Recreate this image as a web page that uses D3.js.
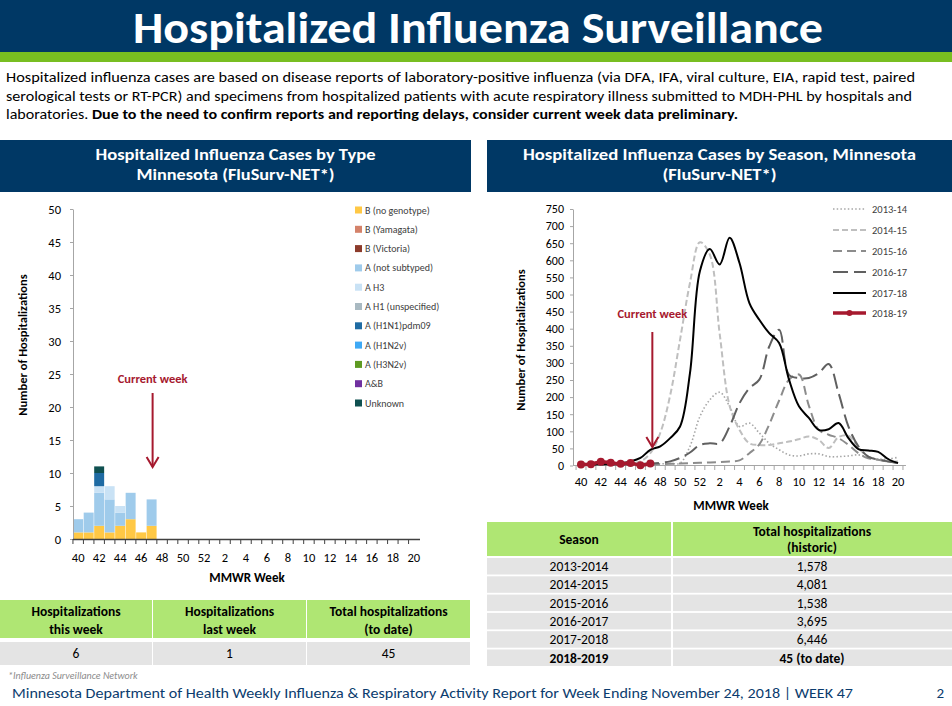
<!DOCTYPE html>
<html lang="en">
<head>
<meta charset="UTF-8">
<title>Hospitalized Influenza Surveillance</title>
<style type="text/css">
  body { margin: 0; background: #fff; }
  svg { display: block; font-family: Carlito, Calibri, Lato, "Open Sans", sans-serif; }
</style>
</head>
<body>
<script src="https://d3js.org/d3.v7.min.js"></script>
<script type="text/javascript">
var W = 952, H = 706;
var navy = "#003865", red = "#a6192e";

// MMWR weeks of a season and the labels shown under the axes
var weeks = ["40","41","42","43","44","45","46","47","48","49","50","51","52",
             "1","2","3","4","5","6","7","8","9","10","11","12","13","14","15","16","17","18","19","20"];
var tickLabels = ["40","42","44","46","48","50","52","2","4","6","8","10","12","14","16","18","20"];

// left chart: cases by type, weeks reported so far
var typeWeeks = ["40","41","42","43","44","45","46","47"];
var typeNames = ["B (no genotype)","B (Yamagata)","B (Victoria)","A (not subtyped)","A H3",
                 "A H1 (unspecified)","A (H1N1)pdm09","A (H1N2v)","A (H3N2v)","A&B","Unknown"];
var typeColors = ["#ffc845","#d4826a","#8c3b2b","#9fcbeb","#c9e2f5",
                  "#a9b9c1","#1f6ba3","#3fa9f5","#5e9a22","#7030a0","#0f5050"];
var bNoGenotype  = [1,1,2,1,2,3,1,2];
var bYamagata    = [0,0,0,0,0,0,0,0];
var bVictoria    = [0,0,0,0,0,0,0,0];
var aNotSubtyped = [2,3,5,5,2,4,0,4];
var aH3          = [0,0,1,2,1,0,0,0];
var aH1Unspec    = [0,0,0,0,0,0,0,0];
var aH1N1pdm09   = [0,0,2,0,0,0,0,0];
var aH1N2v       = [0,0,0,0,0,0,0,0];
var aH3N2v       = [0,0,0,0,0,0,0,0];
var aAndB        = [0,0,0,0,0,0,0,0];
var unknownType  = [0,0,1,0,0,0,0,0];
var leftYTicks = [0,5,10,15,20,25,30,35,40,45,50];

// right chart: weekly hospitalizations by season
var seasonNames = ["2013-14","2014-15","2015-16","2016-17","2017-18","2018-19"];
var s1314 = [3,3,3,3,4,4,4,5,5,6,7,56,143,192,214,173,114,124,95,65,46,31,28,34,34,26,26,28,31,24,19,19,24];
var s1415 = [5,5,5,5,5,6,12,36,95,205,368,534,653,617,385,175,104,65,60,60,65,70,77,85,75,51,83,87,51,26,17,12,12];
var s1516 = [2,2,2,2,2,2,3,3,4,5,6,7,8,9,10,12,15,36,62,120,190,251,266,175,104,90,80,60,36,21,17,12,7];
var s1617 = [2,2,2,2,3,4,5,6,8,12,22,38,60,65,65,114,182,226,251,348,397,265,256,256,270,297,212,114,56,26,17,12,7];
var s1718 = [3,3,4,5,7,12,22,46,56,80,114,270,568,633,588,666,592,475,426,387,358,251,173,139,104,106,124,80,48,44,40,19,7];
var s1819 = [3,4,11,8,5,7,1,6];
var rightYTicks = [0,50,100,150,200,250,300,350,400,450,500,550,600,650,700,750];

// season totals table
var tableSeasons = ["2013-2014","2014-2015","2015-2016","2016-2017","2017-2018","2018-2019"];
var tableTotals = ["1,578","4,081","1,538","3,695","6,446","45 (to date)"];
var weekHeaders = [["Hospitalizations","this week"],["Hospitalizations","last week"],["Total hospitalizations","(to date)"]];
var weekValues = ["6","1","45"];

var svg = d3.select("body").append("svg").attr("width", W).attr("height", H);

// ---------- header ----------
svg.append("rect").attr("x",0).attr("y",0).attr("width",W).attr("height",52).attr("fill",navy);
svg.append("rect").attr("x",0).attr("y",52).attr("width",W).attr("height",10).attr("fill","#78be21");
svg.append("text").attr("x",478).attr("y",43).attr("text-anchor","middle")
  .attr("fill","#fff").attr("font-weight","bold").attr("font-size",44)
  .attr("textLength",690).attr("lengthAdjust","spacingAndGlyphs")
  .text("Hospitalized Influenza Surveillance");

var para = [
  {y: 82, w: 909, parts: [["Hospitalized influenza cases are based on disease reports of laboratory-positive influenza (via DFA, IFA, viral culture, EIA, rapid test, paired", false]]},
  {y: 101, w: 906, parts: [["serological tests or RT-PCR) and specimens from hospitalized patients with acute respiratory illness submitted to MDH-PHL by hospitals and", false]]},
  {y: 119, w: 732, parts: [["laboratories. ", false], ["Due to the need to confirm reports and reporting delays, consider current week data preliminary.", true]]}
];
para.forEach(function(p){
  var t = svg.append("text").attr("x",6).attr("y",p.y).attr("font-size",14).attr("fill","#000")
    .attr("textLength",p.w).attr("lengthAdjust","spacingAndGlyphs");
  p.parts.forEach(function(q){
    t.append("tspan").attr("font-weight", q[1] ? "bold" : "normal").text(q[0]);
  });
});

// panel title boxes
function titleBox(x, w, lines, widths) {
  svg.append("rect").attr("x",x).attr("y",140).attr("width",w).attr("height",52).attr("fill",navy);
  lines.forEach(function(l, i){
    svg.append("text").attr("x",x + w/2).attr("y",160 + i*20).attr("text-anchor","middle")
      .attr("fill","#fff").attr("font-weight","bold").attr("font-size",16)
      .attr("textLength",widths[i]).attr("lengthAdjust","spacingAndGlyphs").text(l);
  });
}
titleBox(0, 471, ["Hospitalized Influenza Cases by Type","Minnesota (FluSurv-NET*)"], [280, 198]);
titleBox(487, 465, ["Hospitalized Influenza Cases by Season, Minnesota","(FluSurv-NET*)"], [393, 114]);

// ---------- left chart ----------
var xL = d3.scaleBand().domain(weeks).range([73, 419]).paddingInner(0.05).paddingOuter(0.02);
var yL = d3.scaleLinear().domain([0, 50]).range([539, 209]);

var typeArrays = [bNoGenotype,bYamagata,bVictoria,aNotSubtyped,aH3,aH1Unspec,aH1N1pdm09,aH1N2v,aH3N2v,aAndB,unknownType];
var typeRows = typeWeeks.map(function(w, i){
  var r = {week: w};
  typeNames.forEach(function(n, k){ r[n] = typeArrays[k][i]; });
  return r;
});
var stacked = d3.stack().keys(typeNames)(typeRows);

var gL = svg.append("g");
gL.selectAll("g.layer").data(stacked).join("g").attr("class","layer")
  .attr("fill", function(d, i){ return typeColors[i]; })
  .selectAll("rect").data(function(d){ return d; }).join("rect")
  .attr("x", function(d){ return xL(d.data.week); })
  .attr("width", xL.bandwidth())
  .attr("y", function(d){ return yL(d[1]); })
  .attr("height", function(d){ return yL(d[0]) - yL(d[1]); });

var axL = svg.append("g").attr("transform","translate(73,0)")
  .call(d3.axisLeft(yL).tickValues(leftYTicks).tickSize(3).tickPadding(9).tickSizeOuter(0));
axL.select(".domain").attr("stroke","#a6a6a6");
axL.selectAll(".tick line").attr("stroke","#a6a6a6");
axL.selectAll("text").attr("font-size",12.5).attr("fill","#000").attr("font-family","Carlito, Calibri, Lato, sans-serif");

// x axis of left chart
svg.append("line").attr("x1",73).attr("x2",420).attr("y1",539.5).attr("y2",539.5).attr("stroke","#404040").attr("stroke-width",1.5);
var stepL = xL.step();
weeks.forEach(function(w, i){
  var bx = xL(w) - stepL*xL.paddingInner()/2;
  svg.append("line").attr("x1",bx).attr("x2",bx).attr("y1",539).attr("y2",544).attr("stroke","#404040");
});
svg.selectAll("text.xl").data(tickLabels).join("text").attr("class","xl")
  .attr("x", function(d){ return xL(d) + xL.bandwidth()/2; }).attr("y",562)
  .attr("text-anchor","middle").attr("font-size",12.5).text(function(d){ return d; });
svg.append("text").attr("x",247).attr("y",582).attr("text-anchor","middle")
  .attr("font-weight","bold").attr("font-size",13).text("MMWR Week");
svg.append("text").attr("transform","translate(27,345) rotate(-90)").attr("text-anchor","middle")
  .attr("font-weight","bold").attr("font-size",12.5).text("Number of Hospitalizations");

// legend of left chart
typeNames.forEach(function(n, i){
  var y = 210 + i*19.3;
  svg.append("rect").attr("x",355).attr("y",y-3.5).attr("width",7).attr("height",7).attr("fill",typeColors[i]);
  svg.append("text").attr("x",365).attr("y",y+3.5).attr("font-size",10).attr("fill","#404040").text(n);
});

// current week marker
function currentWeek(cx, yText, yTop, yBot) {
  svg.append("text").attr("x",cx).attr("y",yText).attr("text-anchor","middle")
    .attr("font-weight","bold").attr("font-size",12.5).attr("fill",red).text("Current week");
  svg.append("line").attr("x1",cx).attr("x2",cx).attr("y1",yTop).attr("y2",yBot)
    .attr("stroke",red).attr("stroke-width",2);
  svg.append("path").attr("d","M" + (cx-6) + "," + (yBot-10) + "L" + cx + "," + yBot + "L" + (cx+6) + "," + (yBot-10))
    .attr("fill","none").attr("stroke",red).attr("stroke-width",2);
}
currentWeek(xL("47") + xL.bandwidth()/2 + 1, 383, 393, 467);

// ---------- right chart ----------
var xR = d3.scalePoint().domain(weeks).range([581, 898]);
var yR = d3.scaleLinear().domain([0, 750]).range([465.5, 209]);
var stepR = xR.step();

var axR = svg.append("g").attr("transform","translate(573,0)")
  .call(d3.axisLeft(yR).tickValues(rightYTicks).tickSize(3).tickPadding(6).tickSizeOuter(0));
axR.select(".domain").attr("stroke","#a6a6a6");
axR.selectAll(".tick line").attr("stroke","#a6a6a6");
axR.selectAll("text").attr("font-size",12).attr("fill","#000").attr("font-family","Carlito, Calibri, Lato, sans-serif");

svg.append("line").attr("x1",573).attr("x2",xR("20") + stepR/2 + 3).attr("y1",465.5).attr("y2",465.5).attr("stroke","#a6a6a6");
weeks.forEach(function(w){
  var bx = xR(w) - stepR/2;
  svg.append("line").attr("x1",bx).attr("x2",bx).attr("y1",465.5).attr("y2",470).attr("stroke","#a6a6a6");
});
svg.append("line").attr("x1",xR("20")+stepR/2).attr("x2",xR("20")+stepR/2).attr("y1",465.5).attr("y2",470).attr("stroke","#a6a6a6");
svg.selectAll("text.xr").data(tickLabels).join("text").attr("class","xr")
  .attr("x", function(d){ return xR(d); }).attr("y",486)
  .attr("text-anchor","middle").attr("font-size",12.5).text(function(d){ return d; });
svg.append("text").attr("x",731).attr("y",510).attr("text-anchor","middle")
  .attr("font-weight","bold").attr("font-size",13).text("MMWR Week");
svg.append("text").attr("transform","translate(525,340) rotate(-90)").attr("text-anchor","middle")
  .attr("font-weight","bold").attr("font-size",12.5).text("Number of Hospitalizations");

var seasonStyles = [
  {values: s1314, color: "#a6a6a6", width: 1.6, dash: "1.5,2.2"},
  {values: s1415, color: "#bfbfbf", width: 2, dash: "6,3"},
  {values: s1516, color: "#8c8c8c", width: 2, dash: "9,5"},
  {values: s1617, color: "#606060", width: 2, dash: "15,6"},
  {values: s1718, color: "#000000", width: 2, dash: null},
  {values: s1819, color: red, width: 3.5, dash: null}
];
var line = d3.line()
  .x(function(d, i){ return xR(weeks[i]); })
  .y(function(d){ return yR(d); })
  .curve(d3.curveCatmullRom.alpha(0.5));

seasonStyles.forEach(function(s){
  svg.append("path").datum(s.values).attr("d", line)
    .attr("fill","none").attr("stroke",s.color).attr("stroke-width",s.width)
    .attr("stroke-dasharray", s.dash);
});
svg.selectAll("circle.cur").data(s1819).join("circle").attr("class","cur")
  .attr("cx", function(d, i){ return xR(weeks[i]); }).attr("cy", function(d){ return yR(d); })
  .attr("r",4).attr("fill",red);

// legend of right chart
var legY = [209, 230, 251, 272, 293, 313];
seasonStyles.forEach(function(s, i){
  var y = legY[i];
  svg.append("line").attr("x1",833).attr("x2",866).attr("y1",y).attr("y2",y)
    .attr("stroke",s.color).attr("stroke-width",s.width).attr("stroke-dasharray",s.dash);
  if (i === 5) svg.append("circle").attr("cx",849.5).attr("cy",y).attr("r",3).attr("fill",red);
  svg.append("text").attr("x",872).attr("y",y+3.5).attr("font-size",10.5).attr("fill","#404040").text(seasonNames[i]);
});

currentWeek(xR("47") + 2, 318, 332, 447);

// ---------- tables ----------
var green = "#afe673", grey = "#e4e4e4";
var colsL = [[0,152],[153,306],[307,470]];
colsL.forEach(function(c, i){
  svg.append("rect").attr("x",c[0]).attr("y",600).attr("width",c[1]-c[0]).attr("height",38).attr("fill",green);
  svg.append("rect").attr("x",c[0]).attr("y",642).attr("width",c[1]-c[0]).attr("height",23).attr("fill",grey);
  var cx = (c[0]+c[1])/2;
  weekHeaders[i].forEach(function(l, k){
    svg.append("text").attr("x",cx).attr("y",616 + k*18).attr("text-anchor","middle")
      .attr("font-weight","bold").attr("font-size",13.5).text(l);
  });
  svg.append("text").attr("x",cx).attr("y",658).attr("text-anchor","middle").attr("font-size",13.5).text(weekValues[i]);
});

svg.append("rect").attr("x",487).attr("y",522).attr("width",184).attr("height",34).attr("fill",green);
svg.append("rect").attr("x",673).attr("y",522).attr("width",279).attr("height",34).attr("fill",green);
svg.append("text").attr("x",579).attr("y",544).attr("text-anchor","middle").attr("font-weight","bold").attr("font-size",13.5).text("Season");
svg.append("text").attr("x",812).attr("y",536).attr("text-anchor","middle").attr("font-weight","bold").attr("font-size",13.5).text("Total hospitalizations");
svg.append("text").attr("x",812).attr("y",552).attr("text-anchor","middle").attr("font-weight","bold").attr("font-size",13.5).text("(historic)");
tableSeasons.forEach(function(s, i){
  var y = 558 + i*18.3;
  var bold = i === tableSeasons.length - 1 ? "bold" : "normal";
  svg.append("rect").attr("x",487).attr("y",y).attr("width",184).attr("height",16.5).attr("fill",grey);
  svg.append("rect").attr("x",673).attr("y",y).attr("width",279).attr("height",16.5).attr("fill",grey);
  svg.append("text").attr("x",579).attr("y",y+13).attr("text-anchor","middle").attr("font-weight",bold).attr("font-size",13.5).text(s);
  svg.append("text").attr("x",812).attr("y",y+13).attr("text-anchor","middle").attr("font-weight",bold).attr("font-size",13.5).text(tableTotals[i]);
});

// ---------- footer ----------
svg.append("text").attr("x",8).attr("y",679).attr("font-size",10).attr("font-style","italic")
  .attr("fill","#8c8c8c").text("*Influenza Surveillance Network");
svg.append("text").attr("x",12).attr("y",698).attr("font-size",15).attr("fill","#0b3c6e")
  .attr("textLength",841).attr("lengthAdjust","spacingAndGlyphs")
  .text("Minnesota Department of Health Weekly Influenza & Respiratory Activity Report for Week Ending November 24, 2018 | WEEK 47");
svg.append("text").attr("x",944).attr("y",698).attr("text-anchor","end").attr("font-size",15).attr("fill","#0b3c6e").text("2");
</script>
</body>
</html>
